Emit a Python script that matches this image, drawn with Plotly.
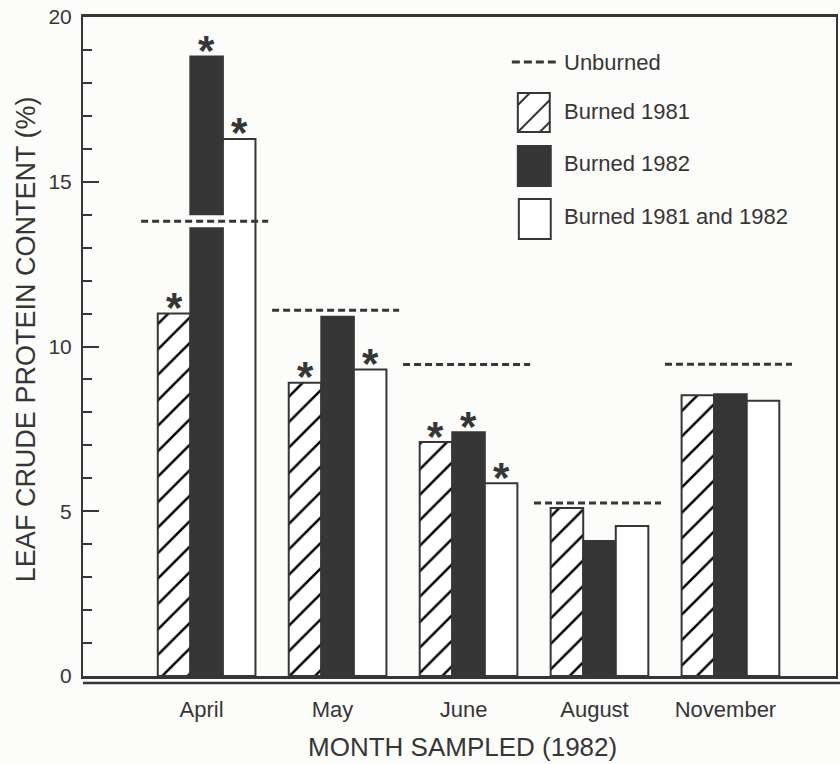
import plotly.graph_objects as go

# ---------------- data ----------------
months = ["April", "May", "June", "August", "November"]
unburned = [13.8, 11.1, 9.45, 5.25, 9.46]
burned_1981 = [11.0, 8.9, 7.1, 5.1, 8.52]
burned_1982 = [18.8, 10.9, 7.4, 4.1, 8.55]
burned_both = [16.3, 9.3, 5.85, 4.55, 8.35]
sig_1981 = [True, True, True, False, False]
sig_1982 = [True, False, True, False, False]
sig_both = [True, True, True, False, False]
y_tickvals = [0, 5, 10, 15, 20]
y_ticktext = ["0", "5", "10", "15", "20"]

# ---------------- style ----------------
INK = "#363636"
BG = "#fcfcfa"
FONT = "Liberation Sans, Arial, sans-serif"
W, H = 840, 764
L, R, T, B = 83, 2, 17, 88
PW, PH = W - L - R, H - T - B
GROUP_W = 0.746
BAR_W = GROUP_W / 3


def px(x):
    return (x - L) / PW


def py(y):
    return (H - B - y) / PH


xs = list(range(len(months)))
fig = go.Figure()

fig.add_trace(go.Bar(
    x=xs, y=burned_1981, name="Burned 1981",
    marker=dict(color="white", line=dict(color=INK, width=2),
                pattern=dict(shape="/", size=18, solidity=0.14,
                             fgcolor="#000000", fgopacity=1,
                             bgcolor="white", fillmode="replace")),
))
fig.add_trace(go.Bar(
    x=xs, y=burned_1982, name="Burned 1982",
    marker=dict(color=INK, line=dict(color=INK, width=2)),
))
fig.add_trace(go.Bar(
    x=xs, y=burned_both, name="Burned 1981 and 1982",
    marker=dict(color="white", line=dict(color=INK, width=2)),
))

# white gap where the unburned line crosses the black bar
gx, gy = [], []
for i, (u, b) in enumerate(zip(unburned, burned_1982)):
    if b > u:
        gx += [i - BAR_W / 2 - 0.01, i + BAR_W / 2 + 0.01, None]
        gy += [u, u, None]
if gx:
    fig.add_trace(go.Scatter(x=gx, y=gy, mode="lines",
                             line=dict(color=BG, width=12),
                             hoverinfo="skip", showlegend=False))

# unburned dashed reference lines
ux, uy = [], []
for i, u in enumerate(unburned):
    ux += [i - 0.5, i + 0.47, None]
    uy += [u, u, None]
fig.add_trace(go.Scatter(x=ux, y=uy, mode="lines", name="Unburned",
                         line=dict(color=INK, width=3, dash="7px,4px")))

# significance asterisks
annotations = []
for series, sig, off in [(burned_1981, sig_1981, -BAR_W),
                         (burned_1982, sig_1982, 0.0),
                         (burned_both, sig_both, BAR_W)]:
    for i, (v, s) in enumerate(zip(series, sig)):
        if s:
            annotations.append(dict(
                x=i + off, y=v, xref="x", yref="y", text="<b>*</b>",
                showarrow=False, yanchor="middle", xanchor="center",
                yshift=6, font=dict(family=FONT, size=42, color=INK)))

# axis titles
annotations.append(dict(
    x=px(464), y=py(747), xref="paper", yref="paper",
    text="MONTH SAMPLED (1982)", showarrow=False,
    xanchor="center", yanchor="middle",
    font=dict(family=FONT, size=26, color=INK)))
annotations.append(dict(
    x=px(26), y=py(339), xref="paper", yref="paper",
    text="LEAF CRUDE PROTEIN CONTENT (%)", showarrow=False, textangle=-90,
    xanchor="center", yanchor="middle",
    font=dict(family=FONT, size=27, color=INK)))

# custom legend
shapes = []
legend_rows = [("Unburned", 62), ("Burned 1981", 112),
               ("Burned 1982", 164), ("Burned 1981 and 1982", 216)]
for label, yc in legend_rows:
    annotations.append(dict(
        x=px(563), y=py(yc), xref="paper", yref="paper", text=label,
        showarrow=False, xanchor="left", yanchor="middle",
        font=dict(family=FONT, size=22, color=INK)))

shapes.append(dict(type="line", xref="paper", yref="paper",
                   x0=px(513), x1=px(557), y0=py(62), y1=py(62),
                   line=dict(color=INK, width=3, dash="8px,4px")))
# hatched swatch
bx0, bx1, by0, by1 = 519, 551, 93, 132
shapes.append(dict(type="rect", xref="paper", yref="paper",
                   x0=px(bx0), x1=px(bx1), y0=py(by1), y1=py(by0),
                   fillcolor="white", line=dict(color=INK, width=2)))
for c in (624, 651, 673):
    pts = []
    for x in (bx0, bx1):
        y = c - x
        if by0 <= y <= by1:
            pts.append((x, y))
    for y in (by0, by1):
        x = c - y
        if bx0 <= x <= bx1:
            pts.append((x, y))
    pts = sorted(set(pts))
    if len(pts) >= 2:
        (xa, ya), (xb, yb) = pts[0], pts[-1]
        shapes.append(dict(type="line", xref="paper", yref="paper",
                           x0=px(xa), y0=py(ya), x1=px(xb), y1=py(yb),
                           line=dict(color=INK, width=2)))
shapes.append(dict(type="rect", xref="paper", yref="paper",
                   x0=px(519), x1=px(552), y0=py(186), y1=py(146),
                   fillcolor=INK, line=dict(color=INK, width=2)))
shapes.append(dict(type="rect", xref="paper", yref="paper",
                   x0=px(520), x1=px(552), y0=py(239), y1=py(199),
                   fillcolor="white", line=dict(color=INK, width=2)))
# second (thin) baseline under the axis
shapes.append(dict(type="line", xref="paper", yref="paper",
                   x0=0, x1=1.01, y0=-7 / PH, y1=-7 / PH,
                   line=dict(color=INK, width=2.5)))

fig.update_layout(
    width=W, height=H,
    margin=dict(l=L, r=R, t=T, b=B, pad=0),
    paper_bgcolor=BG, plot_bgcolor=BG,
    barmode="group", bargap=1 - GROUP_W, bargroupgap=0,
    showlegend=False,
    font=dict(family=FONT, color=INK),
    annotations=annotations, shapes=shapes,
    xaxis=dict(
        range=[-0.944, 4.806], tickvals=xs, ticktext=months,
        showline=True, linecolor=INK, linewidth=3, mirror=True,
        ticks="", showgrid=False, zeroline=False,
        tickfont=dict(family=FONT, size=22, color=INK),
        ticklabelstandoff=12, ticklabelshift=-5,
    ),
    yaxis=dict(
        range=[0, 20], tickvals=y_tickvals, ticktext=y_ticktext,
        showline=True, linecolor=INK, linewidth=2, mirror=True,
        ticks="inside", ticklen=16, tickwidth=2, tickcolor=INK,
        minor=dict(ticks="inside", ticklen=9, tickwidth=2, tickcolor=INK,
                   dtick=1, showgrid=False),
        showgrid=False, zeroline=False,
        tickfont=dict(family=FONT, size=21, color=INK),
        ticklabelstandoff=5,
    ),
)

fig.write_html("out.html")
